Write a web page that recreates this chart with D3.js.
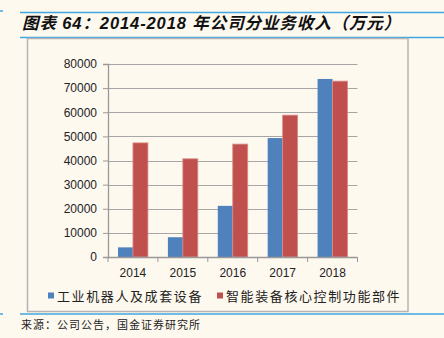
<!DOCTYPE html>
<html><head><meta charset="utf-8">
<script src="https://cdn.jsdelivr.net/npm/d3@7"></script>
<style>
html,body{margin:0;padding:0;background:#fef9ef;}
svg{display:block;}
</style></head>
<body>
<svg id="c" width="444" height="338"></svg>
<script>
const years = ["2014","2015","2016","2017","2018"];
const seriesNames = ["工业机器人及成套设备","智能装备核心控制功能部件"];
const robotValues = [4000, 8200, 21200, 49300, 73800];
const partsValues = [47300, 40700, 46800, 58800, 72900];
const yTicks = [0,10000,20000,30000,40000,50000,60000,70000,80000];
const colors = ["#4f81bd","#c0504d"];
const titleText = "图表 64：2014-2018 年公司分业务收入（万元）";
const sourceText = "来源：公司公告，国金证券研究所";

const svg = d3.select("#c");
svg.append("rect").attr("width",444).attr("height",338).attr("fill","#fef9ef");

// decorative lines
const blue = "#3ea6e0";
svg.append("line").attr("x1",20).attr("x2",444).attr("y1",12.5).attr("y2",12.5).attr("stroke",blue).attr("stroke-width",1.5);
svg.append("line").attr("x1",0).attr("x2",3).attr("y1",11).attr("y2",11).attr("stroke",blue).attr("stroke-width",1.5);
svg.append("line").attr("x1",20).attr("x2",444).attr("y1",37.5).attr("y2",37.5).attr("stroke",blue).attr("stroke-width",1.5);
svg.append("line").attr("x1",20).attr("x2",444).attr("y1",314).attr("y2",314).attr("stroke",blue).attr("stroke-width",1.5);
svg.append("line").attr("x1",0).attr("x2",3).attr("y1",314).attr("y2",314).attr("stroke",blue).attr("stroke-width",1.5);

// title
svg.append("text").attr("x",22).attr("y",28.5).text(titleText)
  .attr("font-family","'Liberation Sans','Noto Sans CJK SC',sans-serif")
  .attr("font-weight","bold").attr("font-style","italic").attr("font-size",16.5).attr("letter-spacing",0.9).attr("fill","#111");

// frame
svg.append("rect").attr("x",27.5).attr("y",38.5).attr("width",380.5).attr("height",273)
  .attr("fill","none").attr("stroke","#b5b5b5").attr("stroke-width",1.5);

// plot
const x0 = d3.scaleBand().domain(years).range([108,357.5]).paddingInner(0.4).paddingOuter(0.2);
const x1 = d3.scaleBand().domain([0,1]).range([0,x0.bandwidth()]);
const y = d3.scaleLinear().domain([0,80000]).range([257,64]);

const g = svg.append("g");
g.selectAll("line.grid").data(yTicks.slice(1)).join("line")
  .attr("x1",108).attr("x2",357.5).attr("y1",d=>Math.round(y(d))+0.5).attr("y2",d=>Math.round(y(d))+0.5)
  .attr("stroke","#a6a6a6").attr("stroke-width",1.2);

const yAxis = d3.axisLeft(y).tickValues(yTicks).tickSize(5).tickPadding(6).tickFormat(d3.format("d"));
const ya = svg.append("g").attr("transform","translate(108,0)").call(yAxis);
ya.select(".domain").attr("stroke","#999").attr("stroke-width",1.3);
ya.selectAll(".tick line").attr("stroke","#999");
ya.selectAll("text").attr("font-family","'Liberation Sans',Arial,sans-serif").attr("font-size",12).attr("fill","#222");

const data = years.map((yr,i)=>({yr, vals:[robotValues[i], partsValues[i]]}));
const groups = svg.append("g").selectAll("g").data(data).join("g")
  .attr("transform",d=>`translate(${x0(d.yr)},0)`);
groups.selectAll("rect").data(d=>d.vals.map((v,k)=>({v,k}))).join("rect")
  .attr("x",d=>x1(d.k)).attr("width",x1.bandwidth())
  .attr("y",d=>y(d.v)).attr("height",d=>y(0)-y(d.v))
  .attr("fill",d=>colors[d.k])
  .attr("stroke",d=>d.k===1?"#d98c8a":"none").attr("stroke-width",0.8);

// x axis
const xa = svg.append("g").attr("transform","translate(0,257)");
xa.append("line").attr("x1",108).attr("x2",357.5).attr("y1",0.5).attr("y2",0.5).attr("stroke","#999").attr("stroke-width",1.3);
const bounds = d3.range(years.length+1).map(i=>108 + i*(249.5/years.length));
xa.selectAll("line.t").data(bounds).join("line").attr("class","t")
  .attr("x1",d=>d).attr("x2",d=>d).attr("y1",0).attr("y2",5).attr("stroke","#999");
xa.selectAll("text").data(years).join("text")
  .attr("x",d=>x0(d)+x0.bandwidth()/2).attr("y",20).attr("text-anchor","middle")
  .attr("font-family","'Liberation Sans',Arial,sans-serif").attr("font-size",12).attr("fill","#222")
  .text(d=>d);

// legend
const legX = [48,217];
seriesNames.forEach((n,i)=>{
  svg.append("rect").attr("x",legX[i]).attr("y",292.5).attr("width",6).attr("height",6).attr("fill",colors[i]);
  svg.append("text").attr("x",legX[i]+9).attr("y",300.5).text(n)
    .attr("font-family","'Noto Sans CJK SC',sans-serif").attr("font-size",13).attr("letter-spacing",1.6).attr("fill","#222");
});

// source
svg.append("text").attr("x",21).attr("y",329).text(sourceText)
  .attr("font-family","'Noto Sans CJK SC',sans-serif").attr("font-size",11).attr("letter-spacing",1).attr("fill","#222");
</script>
</body></html>
